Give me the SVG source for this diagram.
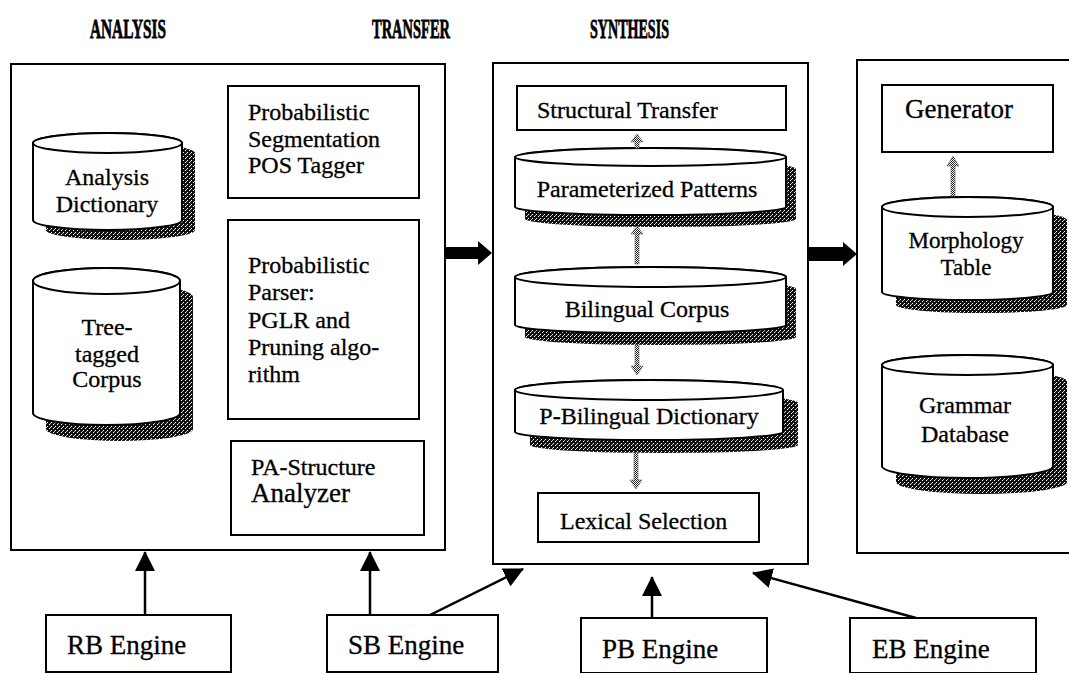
<svg xmlns="http://www.w3.org/2000/svg" width="1069" height="673" viewBox="0 0 1069 673">
<defs>
<pattern id="hatch" width="4" height="4" patternUnits="userSpaceOnUse">
<rect width="4" height="4" fill="#111"/>
<rect x="0" y="0" width="1" height="1" fill="#fff"/>
<rect x="2" y="2" width="1" height="1" fill="#fff"/>
<rect x="1" y="3" width="1" height="1" fill="#bbb"/>
</pattern>
<pattern id="dots" width="2" height="2" patternUnits="userSpaceOnUse">
<rect width="2" height="2" fill="#fff"/>
<rect x="0" y="0" width="1" height="1" fill="#222"/>
<rect x="1" y="1" width="1" height="1" fill="#222"/>
</pattern>
<marker id="ah" markerUnits="userSpaceOnUse" markerWidth="20" markerHeight="20" refX="19" refY="10" orient="auto">
<path d="M0,0 L20,10 L0,20 Z" fill="#000"/>
</marker>
</defs>
<style>
.box{fill:#fff;stroke:#000;stroke-width:2}
.cyl{fill:#fff;stroke:#000;stroke-width:2}
.sh{fill:url(#hatch);stroke:none}
.t{font-family:"Liberation Serif","Times New Roman",serif;font-size:24px;fill:#000;stroke:#000;stroke-width:0.3}
.tl{font-family:"Liberation Serif","Times New Roman",serif;font-size:27px;fill:#000;stroke:#000;stroke-width:0.3}
.title{font-family:"Liberation Serif","Times New Roman",serif;font-size:27px;font-weight:bold;fill:#000;stroke:#000;stroke-width:0.8}
.c{text-anchor:middle}
.eng{stroke:#000;stroke-width:2.5;fill:none}
.ha{fill:url(#dots);stroke:#666;stroke-width:0.6}
</style>

<g id="titles">
<text class="title" x="90" y="38" textLength="76" lengthAdjust="spacingAndGlyphs">ANALYSIS</text>
<text class="title" x="372" y="38" textLength="78" lengthAdjust="spacingAndGlyphs">TRANSFER</text>
<text class="title" x="590" y="38" textLength="79" lengthAdjust="spacingAndGlyphs">SYNTHESIS</text>
</g>

<g id="analysis">
<rect class="box" x="11" y="64" width="434" height="486"/>
</g>
<g id="transfer">
<rect class="box" x="493" y="63" width="315" height="501"/>
</g>
<g id="synthesis">
<rect class="box" x="857" y="60" width="220" height="493"/>
</g>

<g id="analysis-dictionary">
<path class="sh" transform="translate(13,10)" d="M33,143 L33,220 A74.5,10 0 0 0 182,220 L182,143 A74.5,10 0 0 0 33,143 Z"/>
<path class="cyl" d="M33,143 L33,220 A74.5,10 0 0 0 182,220 L182,143 A74.5,10 0 0 0 33,143 Z"/>
<ellipse class="cyl" cx="107.5" cy="143" rx="74.5" ry="10"/>
<text class="t c" x="107" y="185">Analysis</text>
<text class="t c" x="107" y="212">Dictionary</text>
</g>

<g id="tree-tagged-corpus">
<path class="sh" transform="translate(13,16)" d="M33,281 L33,413 A73.5,12 0 0 0 180,413 L180,281 A73.5,13 0 0 0 33,281 Z"/>
<path class="cyl" d="M33,281 L33,413 A73.5,12 0 0 0 180,413 L180,281 A73.5,13 0 0 0 33,281 Z"/>
<ellipse class="cyl" cx="106.5" cy="281" rx="73.5" ry="13"/>
<text class="t c" x="107" y="335">Tree-</text>
<text class="t c" x="107" y="362">tagged</text>
<text class="t c" x="107" y="387">Corpus</text>
</g>

<g id="pos-tagger">
<rect class="box" x="228" y="86" width="191" height="112"/>
<text class="t" x="248" y="120">Probabilistic</text>
<text class="t" x="248" y="147">Segmentation</text>
<text class="t" x="248" y="173">POS Tagger</text>
</g>

<g id="parser">
<rect class="box" x="228" y="220" width="191" height="199"/>
<text class="t" x="248" y="273">Probabilistic</text>
<text class="t" x="248" y="300">Parser:</text>
<text class="t" x="248" y="328">PGLR and</text>
<text class="t" x="248" y="355">Pruning algo-</text>
<text class="t" x="248" y="382">rithm</text>
</g>

<g id="pa-structure">
<rect class="box" x="231" y="441" width="193" height="94"/>
<text class="t" x="251" y="475">PA-Structure</text>
<text class="tl" x="251" y="502">Analyzer</text>
</g>

<g id="structural-transfer">
<rect class="box" x="517" y="86" width="269" height="44"/>
<text class="t" x="537" y="118">Structural Transfer</text>
</g>

<g id="parameterized-patterns">
<path class="sh" transform="translate(10,12)" d="M515,157 L515,207 A135.5,8 0 0 0 786,207 L786,157 A135.5,9 0 0 0 515,157 Z"/>
<path class="cyl" d="M515,157 L515,207 A135.5,8 0 0 0 786,207 L786,157 A135.5,9 0 0 0 515,157 Z"/>
<ellipse class="cyl" cx="650.5" cy="157" rx="135.5" ry="9"/>
<text class="t c" x="647" y="197">Parameterized Patterns</text>
</g>

<g id="bilingual-corpus">
<path class="sh" transform="translate(10,12)" d="M515,277 L515,325 A135.5,8 0 0 0 786,325 L786,277 A135.5,10 0 0 0 515,277 Z"/>
<path class="cyl" d="M515,277 L515,325 A135.5,8 0 0 0 786,325 L786,277 A135.5,10 0 0 0 515,277 Z"/>
<ellipse class="cyl" cx="650.5" cy="277" rx="135.5" ry="10"/>
<text class="t c" x="647" y="317">Bilingual Corpus</text>
</g>

<g id="p-bilingual-dictionary">
<path class="sh" transform="translate(15,13)" d="M515,390 L515,432 A134,8 0 0 0 783,432 L783,390 A134,10 0 0 0 515,390 Z"/>
<path class="cyl" d="M515,390 L515,432 A134,8 0 0 0 783,432 L783,390 A134,10 0 0 0 515,390 Z"/>
<ellipse class="cyl" cx="649" cy="390" rx="134" ry="10"/>
<text class="t c" x="649" y="424">P-Bilingual Dictionary</text>
</g>

<g id="lexical-selection">
<rect class="box" x="538" y="493" width="221" height="49"/>
<text class="t" x="560" y="529">Lexical Selection</text>
</g>

<g id="generator">
<rect class="box" x="882" y="85" width="171" height="67"/>
<text class="tl" x="905" y="118">Generator</text>
</g>

<g id="morphology-table">
<path class="sh" transform="translate(14,13)" d="M882,207 L882,292 A85.5,8 0 0 0 1053,292 L1053,207 A85.5,10 0 0 0 882,207 Z"/>
<path class="cyl" d="M882,207 L882,292 A85.5,8 0 0 0 1053,292 L1053,207 A85.5,10 0 0 0 882,207 Z"/>
<ellipse class="cyl" cx="967.5" cy="207" rx="85.5" ry="10"/>
<text class="t c" x="966" y="248" style="font-size:23px">Morphology</text>
<text class="t c" x="966" y="275" style="font-size:23px">Table</text>
</g>

<g id="grammar-database">
<path class="sh" transform="translate(14,16)" d="M882,365 L882,466 A85.5,12 0 0 0 1053,466 L1053,365 A85.5,10 0 0 0 882,365 Z"/>
<path class="cyl" d="M882,365 L882,466 A85.5,12 0 0 0 1053,466 L1053,365 A85.5,10 0 0 0 882,365 Z"/>
<ellipse class="cyl" cx="967.5" cy="365" rx="85.5" ry="10"/>
<text class="t c" x="965" y="413">Grammar</text>
<text class="t c" x="965" y="442">Database</text>
</g>

<g id="rb-engine">
<rect class="box" x="46" y="615" width="185" height="57"/>
<text class="tl" x="67" y="654">RB Engine</text>
</g>
<g id="sb-engine">
<rect class="box" x="327" y="615" width="171" height="57"/>
<text class="tl" x="348" y="654">SB Engine</text>
</g>
<g id="pb-engine">
<rect class="box" x="581" y="618" width="186" height="55"/>
<text class="tl" x="602" y="658">PB Engine</text>
</g>
<g id="eb-engine">
<rect class="box" x="850" y="618" width="186" height="55"/>
<text class="tl" x="872" y="658">EB Engine</text>
</g>

<g id="connectors">
<path d="M445,247 L478,247 L478,241 L492,253 L478,265 L478,259 L445,259 Z" fill="#000"/>
<path d="M808,247 L843,247 L843,242 L857,254 L843,266 L843,261 L808,261 Z" fill="#000"/>
<path class="ha" d="M635,148 L635,142 L631,142 L637,134 L643,142 L639,142 L639,148 Z"/>
<path class="ha" d="M635,264 L635,234 L631,234 L637,226 L643,234 L639,234 L639,264 Z"/>
<path class="ha" d="M635,345 L635,366 L631,366 L637,375 L643,366 L639,366 L639,345 Z"/>
<path class="ha" d="M634,453 L634,480 L630,480 L636,489 L642,480 L638,480 L638,453 Z"/>
<path class="ha" d="M951,196 L951,166 L947,166 L953,156 L959,166 L955,166 L955,196 Z"/>
<line class="eng" x1="145" y1="615" x2="145" y2="552" marker-end="url(#ah)"/>
<line class="eng" x1="370" y1="615" x2="370" y2="552" marker-end="url(#ah)"/>
<line class="eng" x1="430" y1="615" x2="523" y2="569" marker-end="url(#ah)"/>
<line class="eng" x1="652" y1="618" x2="652" y2="577" marker-end="url(#ah)"/>
<line class="eng" x1="916" y1="618" x2="753" y2="573" marker-end="url(#ah)"/>
</g>
</svg>
